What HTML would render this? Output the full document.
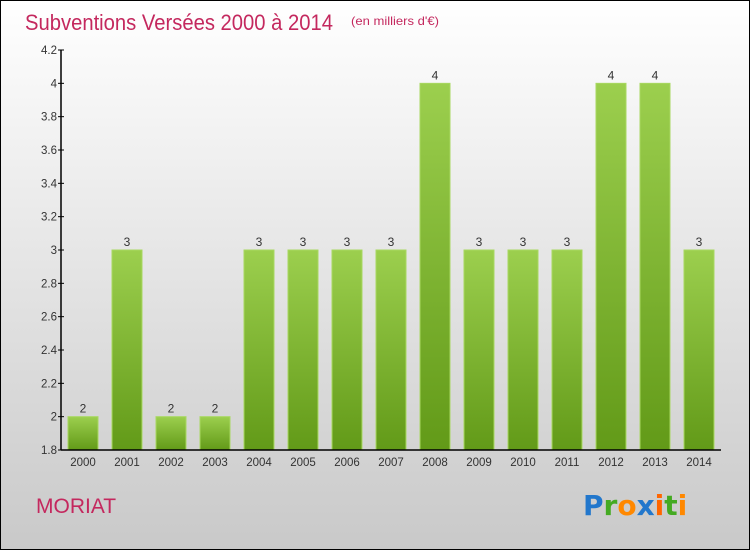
<!DOCTYPE html>
<html><head><meta charset="utf-8"><style>
html,body{margin:0;padding:0;width:750px;height:550px;overflow:hidden}
svg{display:block;font-family:"Liberation Sans",sans-serif}
</style></head><body>
<svg width="750" height="550" viewBox="0 0 750 550">
<defs>
<linearGradient id="bg" x1="0" y1="0" x2="0" y2="1"><stop offset="0" stop-color="#ffffff"/><stop offset="1" stop-color="#c9c9c9"/></linearGradient>
<linearGradient id="bar" x1="0" y1="0" x2="0" y2="1"><stop offset="0" stop-color="#9ccf4e"/><stop offset="1" stop-color="#629a18"/></linearGradient>
</defs>
<rect x="0.5" y="0.5" width="749" height="549" fill="url(#bg)" stroke="#000"/>
<text x="25" y="30" font-size="22" fill="#c4285e" textLength="308" lengthAdjust="spacingAndGlyphs">Subventions Versées 2000 à 2014</text>
<text x="351" y="25" font-size="12" fill="#c4285e" textLength="88" lengthAdjust="spacingAndGlyphs">(en milliers d'€)</text>
<g id="plot"></g>
<text x="36" y="513" font-size="21" fill="#c4285e">MORIAT</text>
<g font-size="28" font-weight="bold" font-family="'DejaVu Sans',sans-serif">
<text x="583" y="515"><tspan fill="#2277cc">P</tspan><tspan fill="#44aa22">r</tspan><tspan fill="#ff8800">o</tspan><tspan fill="#2277cc">x</tspan><tspan fill="#ff6600">i</tspan><tspan fill="#44aa22">t</tspan><tspan fill="#ff8800">i</tspan></text>
</g>
</svg>
<script>
const years=["2000","2001","2002","2003","2004","2005","2006","2007","2008","2009","2010","2011","2012","2013","2014"];
const values=[2,3,2,2,3,3,3,3,4,3,3,3,4,4,3];
const yTicks=[1.8,2,2.2,2.4,2.6,2.8,3,3.2,3.4,3.6,3.8,4,4.2];
{
const NS="http://www.w3.org/2000/svg";
const g=document.getElementById('plot');
const yMin=1.8,yMax=4.2,plotTop=50,plotBot=450,axX=61,plotRight=721;
const y=v=>plotBot-(v-yMin)/(yMax-yMin)*(plotBot-plotTop);
const x=i=>83+i*44;
function mk(t,a){const e=document.createElementNS(NS,t);for(const k in a)e.setAttribute(k,a[k]);g.appendChild(e);return e;}
values.forEach((v,i)=>{
 const r=mk('rect',{x:x(i)-15,y:y(v),width:30,height:plotBot-y(v),fill:'url(#bar)',stroke:'#a8d860','stroke-width':1});
 
 
 const t=mk('text',{x:x(i),y:y(v)-4,'text-anchor':'middle','font-size':12,fill:'#333'});t.textContent=v;
 
 
 const xl=mk('text',{x:x(i),y:plotBot+16,'text-anchor':'middle','font-size':11.5,fill:'#333'});xl.textContent=years[i];
 
 
});
yTicks.forEach(v=>{
 mk('line',{x1:axX-3,x2:axX+3,y1:y(v),y2:y(v),stroke:'#000'});
 const t=mk('text',{x:axX-4,y:y(v)+4,'text-anchor':'end','font-size':11.5,fill:'#333'});t.textContent=v;
 
 
});
const ya=mk('line',{x1:axX,x2:axX,y1:plotTop,y2:plotBot,stroke:'#000','stroke-width':1.5});


const xa=mk('line',{x1:axX,x2:plotRight,y1:plotBot,y2:plotBot,stroke:'#000','stroke-width':1.5});


}
</script>
</body></html>
